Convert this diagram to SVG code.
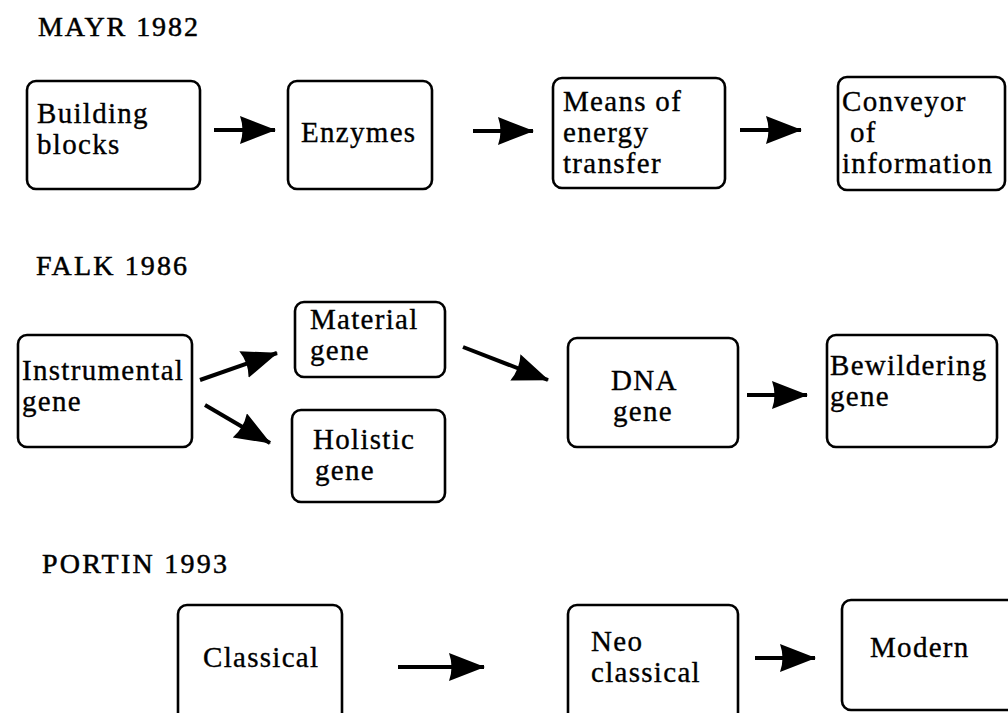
<svg xmlns="http://www.w3.org/2000/svg" width="1008" height="713" viewBox="0 0 1008 713">
  <defs>
    <style>
      .box { fill: #fff; stroke: #000; stroke-width: 2.6; }
      .title { font-family: "Liberation Serif", "Times New Roman", serif; font-size: 28px; fill: #000; stroke: #000; stroke-width: 0.5; }
      .lbl { font-family: "Liberation Serif", "Times New Roman", serif; font-size: 29px; letter-spacing: 1.3px; fill: #000; stroke: #000; stroke-width: 0.35; }
      .arrow { fill: none; stroke: #000; stroke-width: 4; marker-end: url(#head); }
    </style>
    <marker id="head" markerUnits="userSpaceOnUse" markerWidth="38" markerHeight="30" refX="35" refY="14" orient="auto" viewBox="0 0 38 30">
      <path d="M0,0 L36,14 L0,28 Q5,14 0,0 Z" fill="#000"/>
    </marker>
  </defs>
  <rect width="1008" height="713" fill="#fff"/>

  <!-- section headings -->
  <text class="title" x="38" y="36" textLength="160" lengthAdjust="spacing">MAYR 1982</text>
  <text class="title" x="36" y="275" textLength="151" lengthAdjust="spacing">FALK 1986</text>
  <text class="title" x="42" y="573" textLength="185" lengthAdjust="spacing">PORTIN 1993</text>

  <!-- MAYR 1982 row -->
  <g id="building-blocks">
    <rect class="box" x="27" y="81" width="173" height="108" rx="9"/>
    <text class="lbl" x="37" y="123">Building</text>
    <text class="lbl" x="37" y="154">blocks</text>
  </g>
  <g id="enzymes">
    <rect class="box" x="288" y="81" width="144" height="108" rx="9"/>
    <text class="lbl" x="301" y="142">Enzymes</text>
  </g>
  <g id="energy-transfer">
    <rect class="box" x="553" y="78" width="172" height="110" rx="9"/>
    <text class="lbl" x="563" y="111">Means of</text>
    <text class="lbl" x="563" y="142">energy</text>
    <text class="lbl" x="563" y="173">transfer</text>
  </g>
  <g id="information">
    <rect class="box" x="838" y="77" width="167" height="113" rx="9"/>
    <text class="lbl" x="842" y="111">Conveyor</text>
    <text class="lbl" x="850" y="142">of</text>
    <text class="lbl" x="842" y="173">information</text>
  </g>

  <!-- FALK 1986 row -->
  <g id="instrumental-gene">
    <rect class="box" x="18" y="335" width="174" height="112" rx="9"/>
    <text class="lbl" x="22" y="380">Instrumental</text>
    <text class="lbl" x="22" y="411">gene</text>
  </g>
  <g id="material-gene">
    <rect class="box" x="295" y="302" width="150" height="75" rx="9"/>
    <text class="lbl" x="310" y="329">Material</text>
    <text class="lbl" x="310" y="360">gene</text>
  </g>
  <g id="holistic-gene">
    <rect class="box" x="292" y="410" width="153" height="92" rx="9"/>
    <text class="lbl" x="313" y="449">Holistic</text>
    <text class="lbl" x="315" y="480">gene</text>
  </g>
  <g id="dna-gene">
    <rect class="box" x="568" y="338" width="170" height="109" rx="9"/>
    <text class="lbl" x="611" y="390">DNA</text>
    <text class="lbl" x="613" y="421">gene</text>
  </g>
  <g id="bewildering-gene">
    <rect class="box" x="827" y="335" width="170" height="112" rx="9"/>
    <text class="lbl" x="830" y="375">Bewildering</text>
    <text class="lbl" x="830" y="406">gene</text>
  </g>

  <!-- PORTIN 1993 row -->
  <g id="classical">
    <rect class="box" x="178" y="605" width="164" height="130" rx="9"/>
    <text class="lbl" x="203" y="667">Classical</text>
  </g>
  <g id="neo-classical">
    <rect class="box" x="568" y="605" width="170" height="130" rx="9"/>
    <text class="lbl" x="591" y="651">Neo</text>
    <text class="lbl" x="591" y="682">classical</text>
  </g>
  <g id="modern">
    <rect class="box" x="842" y="600" width="190" height="110" rx="9"/>
    <text class="lbl" x="870" y="657">Modern</text>
  </g>

  <!-- connectors -->
  <g id="connectors">
    <line class="arrow" x1="214" y1="130" x2="275" y2="130"/>
    <line class="arrow" x1="473" y1="131" x2="533" y2="131"/>
    <line class="arrow" x1="740" y1="130" x2="801" y2="130"/>

    <line class="arrow" x1="200" y1="380" x2="277" y2="353"/>
    <line class="arrow" x1="205" y1="405" x2="270" y2="443"/>
    <line class="arrow" x1="463" y1="347" x2="548" y2="380"/>
    <line class="arrow" x1="747" y1="395" x2="807" y2="395"/>

    <line class="arrow" x1="398" y1="667" x2="484" y2="667"/>
    <line class="arrow" x1="755" y1="658" x2="815" y2="658"/>
  </g>
</svg>
